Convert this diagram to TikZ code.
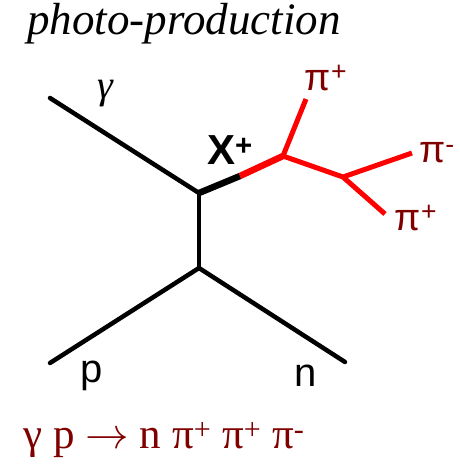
\documentclass[tikz,border=0pt]{standalone}
\usepackage{fontspec}
\setmainfont{Liberation Serif}
\setsansfont{Liberation Sans}
\usepackage{xcolor}
\definecolor{pionred}{RGB}{255,0,0}
\definecolor{piondark}{RGB}{128,0,0}

\begin{document}
\begin{tikzpicture}[x=1pt,y=-1pt,
  leg/.style={line width=4.5pt,line cap=round},
  pion/.style={line width=5pt,pionred},
  lbl/.style={inner sep=0pt,font=\sffamily\fontsize{40}{40}\selectfont},
  pilbl/.style={inner sep=0pt,piondark,font=\sffamily\fontsize{38}{38}\selectfont}]
\useasboundingbox (0,0) rectangle (459,467);

% vertices and free ends
\coordinate (top) at (199,193);
\coordinate (bot) at (199,268);
\coordinate (xmid) at (240,176);
\coordinate (dec1) at (283,156);
\coordinate (dec2) at (343,177);
\coordinate (gin) at (50,98);
\coordinate (pin) at (50,363);
\coordinate (nout) at (345,362);
\coordinate (pia) at (306,99);
\coordinate (pib) at (412,153);
\coordinate (pic) at (385,214);

% title and labels
\node[inner sep=0pt,font=\itshape\fontsize{45}{45}\selectfont](title) at (184,24){photo-production};
\node[inner sep=0pt,font=\itshape\fontsize{40}{40}\selectfont](gam) at (105,94){γ};
\node[lbl,font=\sffamily\bfseries\fontsize{42}{42}\selectfont](xp) at (230,150){X\textsuperscript{+}};
\node[lbl](p) at (92,376){p};
\node[lbl](n) at (306,376){n};
\node[pilbl](pi1) at (326,78){π\textsuperscript{+}};
\node[pilbl](pi2) at (437,153){π\textsuperscript{-}};
\node[pilbl](pi3) at (416,218){π\textsuperscript{+}};
\node[inner sep=0pt,piondark,font=\fontsize{43}{43}\selectfont](react) at (164,440)
  {γ p \scalebox{1.75}{$\rightarrow$} n π\textsuperscript{+} π\textsuperscript{+} π\textsuperscript{-}};

% diagram
\draw[leg] (gin) -- (top);
\draw[leg] (top) -- (bot);
\draw[leg] (pin) -- (bot) -- (nout);
\draw[line width=6.5pt] (top) -- (xmid);
\draw[line width=6.5pt,pionred] (xmid) -- (dec1);
\draw[pion] (dec1) -- (pia);
\draw[pion] (dec1) -- (dec2);
\draw[pion] (dec2) -- (pib);
\draw[pion] (dec2) -- (pic);
\end{tikzpicture}
\end{document}
